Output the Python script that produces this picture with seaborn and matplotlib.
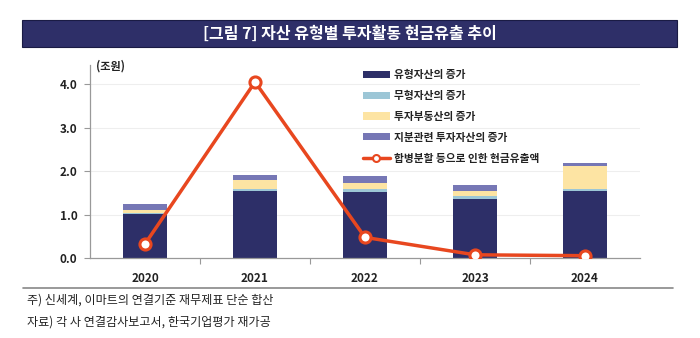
import matplotlib
matplotlib.use("Agg")
import matplotlib.pyplot as plt
import seaborn as sns
import pandas as pd
import numpy as np
from matplotlib.patches import Rectangle, Patch
from matplotlib.lines import Line2D

years = ["2020", "2021", "2022", "2023", "2024"]
tangible = [1.01, 1.55, 1.53, 1.36, 1.55]
intangible = [0.03, 0.05, 0.07, 0.07, 0.05]
inv_property = [0.06, 0.20, 0.12, 0.12, 0.52]
equity = [0.15, 0.11, 0.16, 0.13, 0.08]
merger_cash = [0.33, 4.05, 0.48, 0.08, 0.06]

series_names = ["유형자산의 증가", "무형자산의 증가", "투자부동산의 증가", "지분관련 투자자산의 증가"]
line_name = "합병분할 등으로 인한 현금유출액"
yticks = [0.0, 1.0, 2.0, 3.0, 4.0]
title = "[그림 7] 자산 유형별 투자활동 현금유출 추이"
unit = "(조원)"
notes = ["주) 신세계, 이마트의 연결기준 재무제표 단순 합산",
         "자료) 각 사 연결감사보고서, 한국기업평가 재가공"]

colors = ["#2d2f68", "#9cc6d6", "#fde4a3", "#7677b5"]
line_color = "#e8471f"

sns.set_theme(style="white")
plt.rcParams['font.family'] = ['Noto Sans CJK KR', 'DejaVu Sans']

fig = plt.figure(figsize=(7.0, 3.38), dpi=100)
ax = fig.add_axes([0.1286, 0.2358, 0.7857, 0.572])

df = pd.DataFrame({"year": years})
stack = [tangible, intangible, inv_property, equity]
bottom = np.zeros(len(years))
for vals, c, name in zip(stack, colors, series_names):
    ax.bar(np.arange(len(years)), vals, bottom=bottom, width=0.4, color=c,
           edgecolor="none", label=name, zorder=2)
    bottom += np.array(vals)

df["cash"] = merger_cash
sns.lineplot(x=np.arange(len(years)), y=df["cash"], ax=ax, color=line_color,
             linewidth=2.5, marker="o", markersize=8, markerfacecolor="white",
             markeredgecolor=line_color, markeredgewidth=2.2, zorder=3)

ax.set_xlim(-0.5, 4.5)
ax.set_ylim(0, 4.44)
ax.set_yticks(yticks)
ax.set_yticklabels([f"{v:.1f}" for v in yticks], fontsize=8.5, fontweight="bold", color="#222222")
ax.set_xticks(np.arange(len(years)))
ax.set_xticklabels(years, fontsize=8.5, fontweight="bold", color="#222222")
ax.set_xticks(np.arange(len(years) - 1) + 0.5, minor=True)
ax.tick_params(axis="x", which="major", length=0, pad=10)
ax.tick_params(axis="x", which="minor", length=4, color="#999999", width=0.8, direction="out", bottom=True)
ax.tick_params(axis="y", length=4, color="#999999", width=0.8, direction="out", left=True, pad=5)
ax.set_xlabel("")
ax.set_ylabel("")
for y in yticks[1:]:
    ax.axhline(y, color="#eeeeee", linewidth=0.8, zorder=0)
for s in ["top", "right"]:
    ax.spines[s].set_visible(False)
for s in ["left", "bottom"]:
    ax.spines[s].set_color("#999999")
    ax.spines[s].set_linewidth(0.9)

ax.text(0.01, 0.995, unit, fontsize=8, fontweight="bold", color="#222222",
        va="center", ha="left", transform=ax.transAxes)

handles = [Patch(facecolor=c, edgecolor="none") for c in colors]
handles.append(Line2D([0], [0], color=line_color, linewidth=2.5, marker="o", markersize=5,
                      markerfacecolor="white", markeredgecolor=line_color, markeredgewidth=1.5))
leg = ax.legend(handles, series_names + [line_name], loc="upper left",
                bbox_to_anchor=(0.496, 0.975), frameon=False, fontsize=7.7,
                handlelength=2.5, handleheight=0.65, labelspacing=1.02, handletextpad=0.45,
                borderaxespad=0, borderpad=0)
for t in leg.get_texts():
    t.set_fontweight("bold")
    t.set_color("#222222")

# title banner
fig.patches.append(Rectangle((22 / 700, 1 - 47 / 338), 655 / 700, 27 / 338,
                             transform=fig.transFigure, facecolor="#2e2f68",
                             edgecolor="#1a1b44", linewidth=0.8, zorder=0))
fig.text(0.5, 1 - 33.5 / 338, title, color="white", fontsize=11.5, fontweight="bold",
         ha="center", va="center")

# footer line
fig.add_artist(Line2D([23 / 700, 673 / 700], [1 - 288 / 338, 1 - 288 / 338],
                      transform=fig.transFigure, color="#888888", linewidth=1.2))
fig.text(27 / 700, 1 - 300 / 338, notes[0], fontsize=8.7, color="#222222", va="center", ha="left")
fig.text(27 / 700, 1 - 322 / 338, notes[1], fontsize=8.7, color="#222222", va="center", ha="left")

fig.savefig("out.png", dpi=100)
